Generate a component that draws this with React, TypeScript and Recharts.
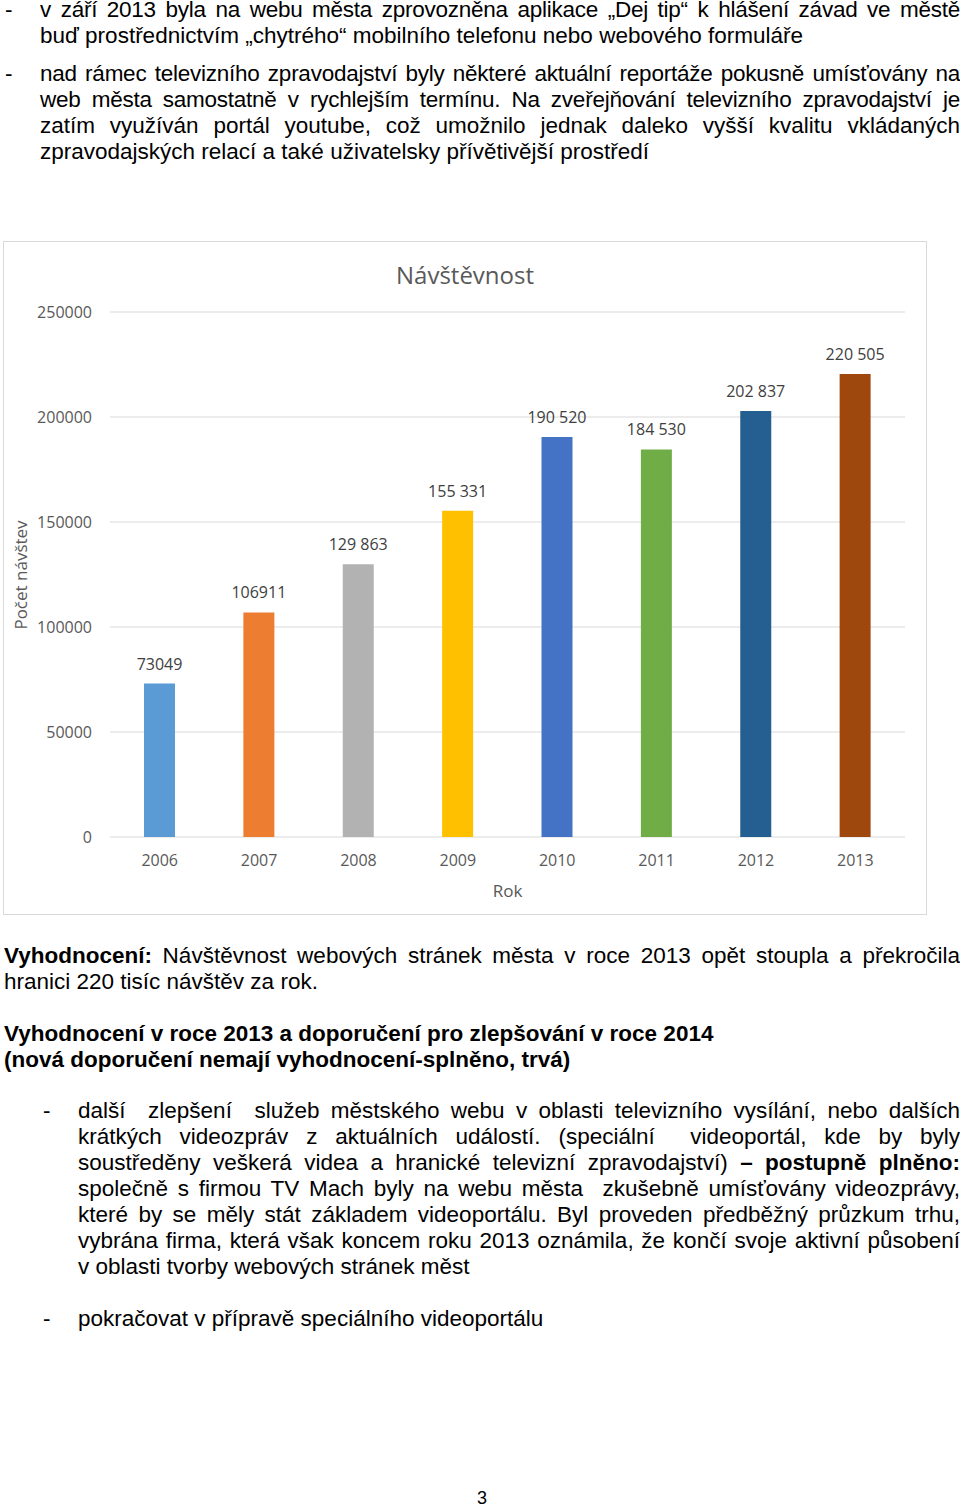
import React from 'react';
import { BarChart, Bar, XAxis, YAxis, CartesianGrid, Cell, LabelList } from 'recharts';

// chart values
const years = ['2006', '2007', '2008', '2009', '2010', '2011', '2012', '2013'];
const visits = [73049, 106911, 129863, 155331, 190520, 184530, 202837, 220505];
const visitLabels = ['73049', '106911', '129 863', '155 331', '190 520', '184 530', '202 837', '220 505'];
const barColors = ['#5b9bd5', '#ed7d31', '#b2b2b2', '#ffc000', '#4472c4', '#70ad47', '#255e91', '#9e480e'];
const yTicks = [0, 50000, 100000, 150000, 200000, 250000];

// non-breaking spaces so the labels stay on one line above the narrow bars
const data = years.map((year, i) => ({ year, visits: visits[i], label: visitLabels[i].replace(/ /g, '\u00a0') }));

const TEXT_FONT = '"Liberation Sans", Arial, sans-serif';
const CHART_FONT = '"Open Sans", sans-serif';
const TEXT_SIZE = 22.5;

type Seg = string | { b: string };
type Line = Seg[];

const para1: Line[] = [
  ['v září 2013 byla na webu města zprovozněna aplikace „Dej tip“ k hlášení závad ve městě'],
  ['buď prostřednictvím „chytrého“ mobilního telefonu nebo webového formuláře'],
];
const para2: Line[] = [
  ['nad rámec televizního zpravodajství byly některé aktuální reportáže pokusně umísťovány na'],
  ['web města samostatně v rychlejším termínu. Na zveřejňování televizního zpravodajství je'],
  ['zatím využíván portál youtube, což umožnilo jednak daleko vyšší kvalitu vkládaných'],
  ['zpravodajských relací a také uživatelsky přívětivější prostředí'],
];
const evalLines: Line[] = [
  [{ b: 'Vyhodnocení:' }, ' Návštěvnost webových stránek města v roce 2013 opět stoupla a překročila'],
  ['hranici 220 tisíc návštěv za rok.'],
];
const item1: Line[] = [
  ['další  zlepšení  služeb městského webu v oblasti televizního vysílání, nebo dalších'],
  ['krátkých videozpráv z aktuálních událostí. (speciální  videoportál, kde by byly'],
  ['soustředěny veškerá videa a hranické televizní zpravodajství) ', { b: '– postupně plněno:' }],
  ['společně s firmou TV Mach byly na webu města  zkušebně umísťovány videozprávy,'],
  ['které by se měly stát základem videoportálu. Byl proveden předběžný průzkum trhu,'],
  ['vybrána firma, která však koncem roku 2013 oznámila, že končí svoje aktivní působení'],
  ['v oblasti tvorby webových stránek měst'],
];
const item2: Line[] = [['pokračovat v přípravě speciálního videoportálu']];

const Para = ({ lines, top, left, width }: { lines: Line[]; top: number; left: number; width: number }) => (
  <div style={{ position: 'absolute', top, left, width, fontFamily: TEXT_FONT, fontSize: TEXT_SIZE, color: '#000' }}>
    {lines.map((line, i) => (
      <div
        key={i}
        style={{
          height: 26,
          lineHeight: '26px',
          textAlign: 'justify',
          textAlignLast: i === lines.length - 1 ? 'left' : 'justify',
          whiteSpace: 'pre-wrap',
          letterSpacing: line.length === 1 && (line[0] as string).length > 84 ? -0.25 : 0,
        }}
      >
        {line.map((s, j) => (typeof s === 'string' ? <span key={j}>{s}</span> : <b key={j}>{s.b}</b>))}
      </div>
    ))}
  </div>
);

const Dash = ({ top, left }: { top: number; left: number }) => (
  <div style={{ position: 'absolute', top, left, fontFamily: TEXT_FONT, fontSize: TEXT_SIZE, lineHeight: '26px' }}>-</div>
);

export default function App() {
  return (
    <div style={{ position: 'relative', width: 960, height: 1509, background: '#fff', overflow: 'hidden' }}>
      <style>{'body{margin:0}'}</style>

      <Dash top={-3} left={5} />
      <Para lines={para1} top={-3} left={40} width={920} />
      <Dash top={61} left={5} />
      <Para lines={para2} top={61} left={40} width={920} />

      <div
        style={{
          position: 'absolute',
          left: 3,
          top: 241,
          width: 924,
          height: 674,
          border: '1px solid #d9d9d9',
          boxSizing: 'border-box',
          fontFamily: CHART_FONT,
        }}
      >
        <div
          style={{
            position: 'absolute',
            top: 17,
            left: 0,
            width: 922,
            textAlign: 'center',
            fontSize: 24,
            lineHeight: '32px',
            color: '#595959',
          }}
        >
          Návštěvnost
        </div>
        <div
          style={{
            position: 'absolute',
            left: 16,
            top: 333,
            transform: 'translate(-50%, -50%) rotate(-90deg)',
            whiteSpace: 'nowrap',
            fontSize: 17,
            color: '#595959',
          }}
        >
          Počet návštev
        </div>
        <BarChart width={922} height={672} data={data} margin={{ top: 70, right: 21, bottom: 0, left: 0 }}>
          <CartesianGrid vertical={false} stroke="#d9d9d9" />
          <XAxis
            dataKey="year"
            axisLine={false}
            tickLine={false}
            tickSize={0}
            tickMargin={18}
            height={77}
            tick={{ fill: '#595959', fontSize: 16, fontFamily: CHART_FONT }}
            label={{ value: 'Rok', position: 'insideBottom', offset: 17, fill: '#595959', fontSize: 17, fontFamily: CHART_FONT }}
          />
          <YAxis
            domain={[0, 250000]}
            ticks={yTicks}
            width={106}
            axisLine={false}
            tickLine={false}
            tickSize={0}
            tickMargin={18}
            tick={{ fill: '#595959', fontSize: 16, fontFamily: CHART_FONT }}
          />
          <Bar dataKey="visits" barSize={31} isAnimationActive={false}>
            {data.map((d, i) => (
              <Cell key={d.year} fill={barColors[i]} />
            ))}
            <LabelList dataKey="label" position="top" offset={14} fill="#404040" fontSize={16} fontFamily={CHART_FONT} />
          </Bar>
        </BarChart>
      </div>

      <Para lines={evalLines} top={943} left={4} width={956} />
      <div
        style={{
          position: 'absolute',
          top: 1021,
          left: 4,
          fontFamily: TEXT_FONT,
          fontSize: TEXT_SIZE,
          lineHeight: '26px',
          fontWeight: 'bold',
          whiteSpace: 'nowrap',
        }}
      >
        <div>Vyhodnocení v roce 2013 a doporučení pro zlepšování v roce 2014</div>
        <div>(nová doporučení nemají vyhodnocení-splněno, trvá)</div>
      </div>

      <Dash top={1098} left={43} />
      <Para lines={item1} top={1098} left={78} width={882} />
      <Dash top={1306} left={43} />
      <Para lines={item2} top={1306} left={78} width={882} />

      <div
        style={{
          position: 'absolute',
          top: 1486,
          left: 0,
          width: 964,
          textAlign: 'center',
          fontFamily: TEXT_FONT,
          fontSize: 18,
          lineHeight: '24px',
        }}
      >
        3
      </div>
    </div>
  );
}
